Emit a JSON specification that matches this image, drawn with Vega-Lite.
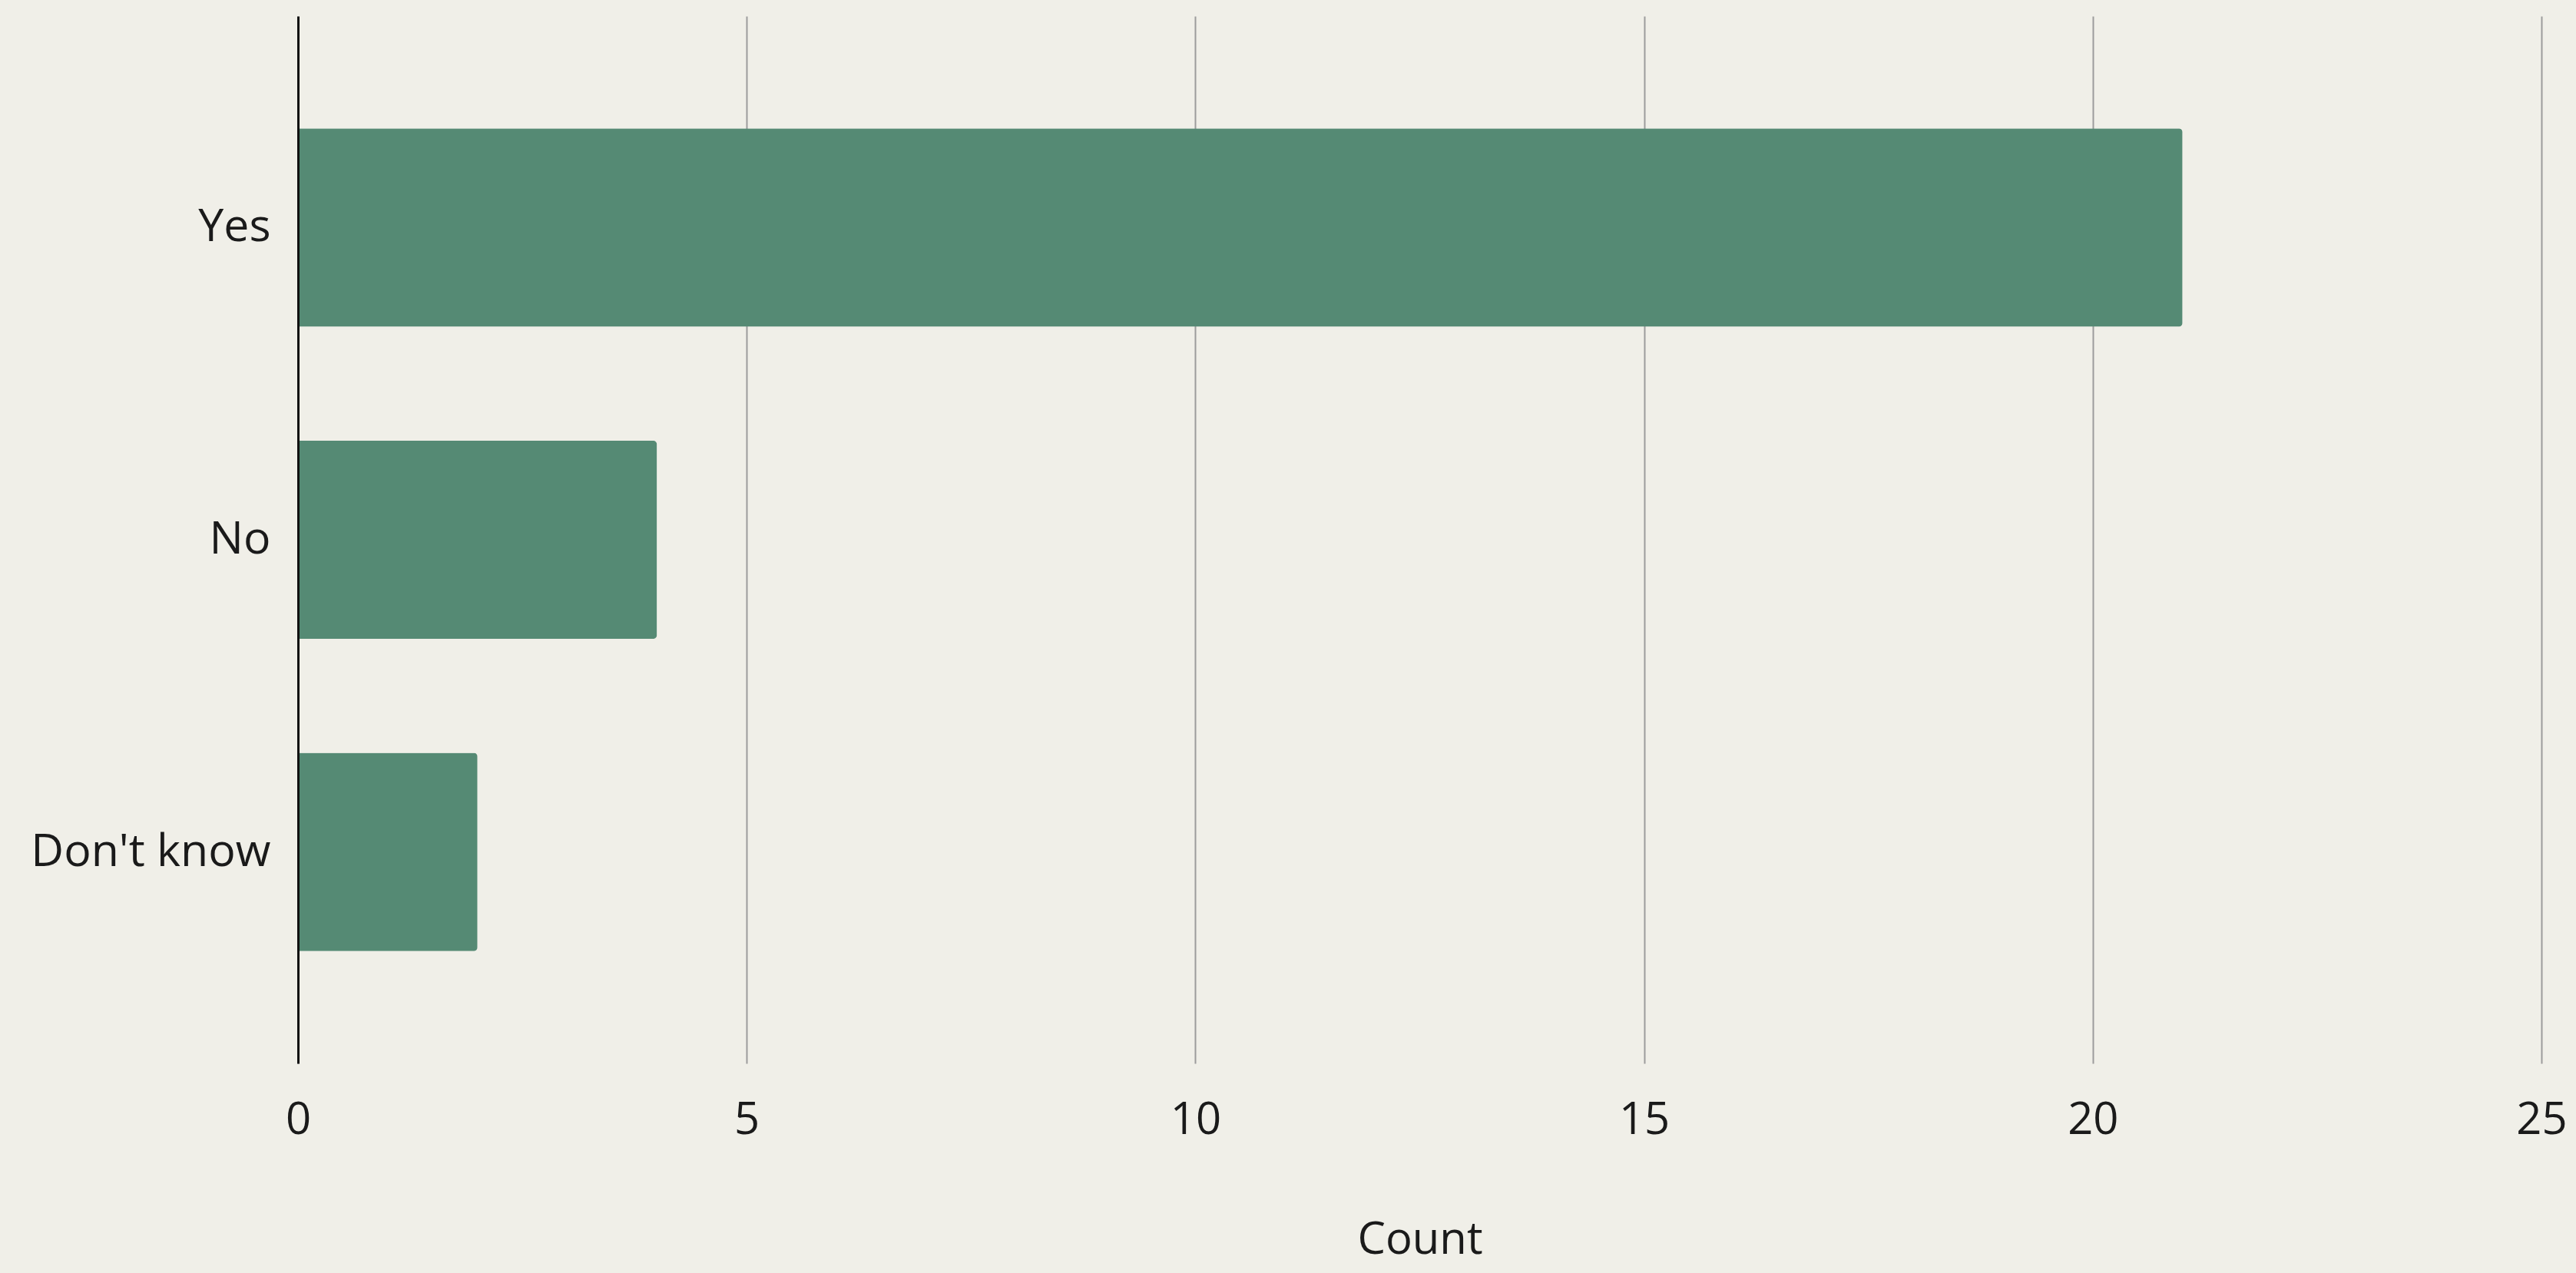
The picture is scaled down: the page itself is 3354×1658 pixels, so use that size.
{
  "$schema": "https://vega.github.io/schema/vega-lite/v6.json",
  "width": 2921,
  "height": 1364,
  "autosize": {"type": "none"},
  "padding": {"left": 388, "top": 21, "right": 45, "bottom": 273},
  "background": "#F0EFE8",
  "config": {
    "view": {"stroke": null},
    "font": "Open Sans"
  },
  "data": {
    "values": [
      {"answer": "Yes", "count": 21},
      {"answer": "No", "count": 4},
      {"answer": "Don't know", "count": 2}
    ]
  },
  "mark": {"type": "bar", "color": "#558A74", "cornerRadiusEnd": 5},
  "encoding": {
    "y": {
      "field": "answer",
      "type": "nominal",
      "sort": ["Yes", "No", "Don't know"],
      "scale": {"paddingInner": 0.365, "paddingOuter": 0.36},
      "axis": {
        "title": null,
        "zindex": 1,
        "domainColor": "#111111",
        "domainWidth": 3,
        "ticks": false,
        "labelPadding": 36,
        "labelLimit": 500,
        "labelFontSize": 59,
        "labelColor": "#1a1a1a",
        "labelFont": "Open Sans"
      }
    },
    "x": {
      "field": "count",
      "type": "quantitative",
      "scale": {"domain": [0, 25], "nice": false},
      "axis": {
        "title": "Count",
        "values": [0, 5, 10, 15, 20, 25],
        "grid": true,
        "gridColor": "#9C9C9C",
        "gridWidth": 2,
        "domain": false,
        "ticks": false,
        "labelPadding": 45,
        "labelFontSize": 58,
        "labelColor": "#1a1a1a",
        "labelFont": "Open Sans",
        "labelOverlap": false,
        "labelFlush": false,
        "titleFontSize": 58,
        "titleFontWeight": "normal",
        "titleColor": "#1a1a1a",
        "titleFont": "Open Sans",
        "titlePadding": 98
      }
    }
  }
}
